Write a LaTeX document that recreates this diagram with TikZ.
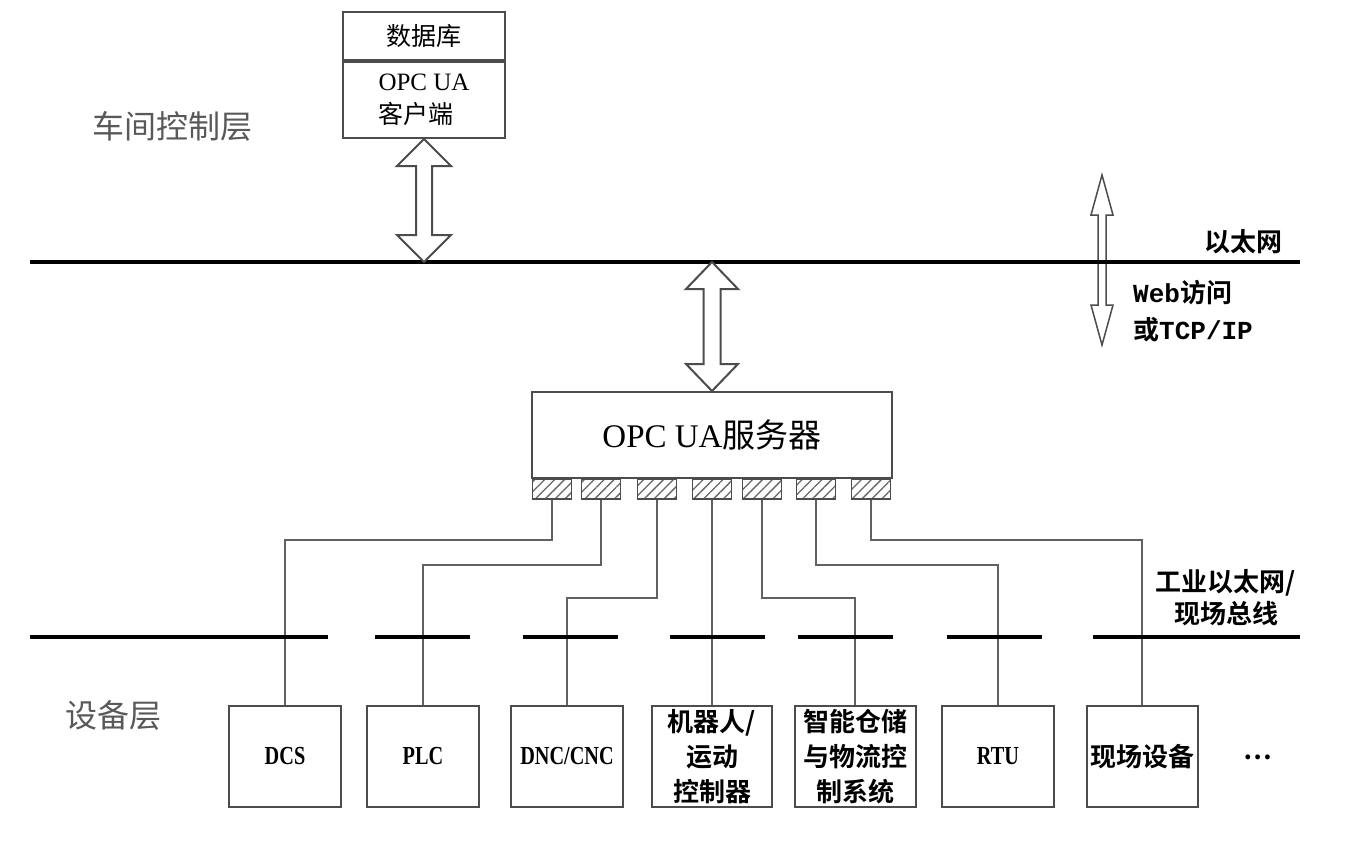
\documentclass[tikz,border=0pt]{standalone}
\usepackage{fontspec}
\setmainfont{Liberation Serif}
\newfontfamily\cjk{Noto Sans CJK SC}[BoldFont={Noto Sans CJK SC Bold}]
\newfontfamily\narrowb{Liberation Serif}[FakeStretch=0.78]
\newfontfamily\monob{Liberation Mono}
\usetikzlibrary{calc,patterns.meta}

\definecolor{framegray}{gray}{0.30}
\definecolor{wiregray}{gray}{0.38}
\definecolor{hatchgray}{gray}{0.40}
\definecolor{layergray}{gray}{0.35}

\newcommand\zh[1]{{\cjk #1}}
\newcommand\zhb[1]{{\cjk\bfseries #1}}
\newcommand\latb[1]{{\narrowb\bfseries #1}}
\newcommand\monb[1]{{\monob\bfseries #1}}

% vertical double-headed block arrow between two points
% #2 top point, #3 bottom point, #4 head half width, #5 shaft half width, #6 head length
\newcommand\dblarrow[6][]{%
  \filldraw[#1] let \p1=#2, \p2=#3 in
    (\x1,\y1) -- (\x1+#4,\y1-#6) -- (\x1+#5,\y1-#6) -- (\x1+#5,\y2+#6)
    -- (\x1+#4,\y2+#6) -- (\x1,\y2) -- (\x1-#4,\y2+#6) -- (\x1-#5,\y2+#6)
    -- (\x1-#5,\y1-#6) -- (\x1-#4,\y1-#6) -- cycle;}

\begin{document}
\begin{tikzpicture}[x=1pt,y=-1pt,
  box/.style={draw=framegray, line width=2pt, fill=white, inner sep=0pt, align=center},
  devbox/.style={box, minimum width=112pt, minimum height=101pt,
    font=\cjk\bfseries\fontsize{26}{35}\selectfont},
  port/.style={draw=framegray, line width=1.5pt, minimum width=39pt, minimum height=20pt,
    inner sep=0pt, pattern={Lines[angle=45,distance=7pt,line width=1.3pt]}, pattern color=hatchgray},
  wire/.style={draw=wiregray, line width=2pt},
  bus/.style={draw=black, line width=4pt},
  fat/.style={draw=framegray, line width=2pt, fill=white, line join=miter},
  thin/.style={draw=framegray, line width=1.5pt, fill=none, line join=miter},
  layer/.style={text=layergray, font=\cjk\fontsize{32}{38}\selectfont},
  netlabel/.style={font=\fontsize{26}{33}\selectfont, align=center, inner sep=0pt}]
\useasboundingbox[fill=white] (0,0) rectangle (1346,856);

% routing levels of the port wires
\coordinate (lvA) at (0,540);
\coordinate (lvB) at (0,565);
\coordinate (lvC) at (0,598);

% Web / TCP-IP access arrow (drawn under the Ethernet line)
\coordinate (webT) at (1102,175);
\coordinate (webB) at (1102,345);
\dblarrow[thin]{(webT)}{(webB)}{11pt}{4pt}{40pt}

% Ethernet backbone
\coordinate (ethL) at (30,262);
\coordinate (ethR) at (1300,262);
\draw[bus, line width=3.5pt] (ethL) -- (ethR);

% database / OPC UA client
\node[box, minimum width=162pt, minimum height=48pt,
      font=\cjk\fontsize{25}{33}\selectfont] (db) at (424,36) {数据库};
\node[box, minimum width=162pt, minimum height=76pt, anchor=north, align=left,
      font=\fontsize{25}{33}\selectfont] (client) at (db.south) {OPC UA\\\zh{客户端}};

% OPC UA server with its ports
\node[box, minimum width=360pt, minimum height=86pt,
      font=\fontsize{33}{40}\selectfont] (server) at (712,435) {OPC UA\zh{服务器}};
\foreach \i/\x in {1/552,2/601,3/657,4/712,5/762,6/816,7/871}
  \node[port] (p\i) at (\x,489) {};

% block arrows to the Ethernet
\dblarrow[fat]{(client.south)}{(client.south |- ethL)}{27pt}{8pt}{27pt}
\dblarrow[fat]{(server.north |- ethL)}{(server.north)}{26pt}{8.5pt}{27pt}

% field devices
\node[devbox] (dcs) at (285,756.5) {\latb{DCS}};
\node[devbox] (plc) at (423,756.5) {\latb{PLC}};
\node[devbox] (dnc) at (567,756.5) {\latb{DNC/CNC}};
\node[devbox, minimum width=120pt] (robot) at (712,756.5) {机器人/\\运动\\控制器};
\node[devbox, minimum width=121pt] (ware) at (855,756.5) {智能仓储\\与物流控\\制系统};
\node[devbox] (rtu) at (998,756.5) {\latb{RTU}};
\node[devbox, minimum width=111pt] (field) at (1142,756.5) {现场设备};
\node[font=\cjk\bfseries\fontsize{26}{30}\selectfont] (more) at (1258,757) {…};

% wires from the server ports to the devices
\draw[wire] (p1.south) |- (dcs.north |- lvA) -- (dcs.north);
\draw[wire] (p2.south) |- (plc.north |- lvB) -- (plc.north);
\draw[wire] (p3.south) |- (dnc.north |- lvC) -- (dnc.north);
\draw[wire] (p4.south) -- (robot.north);
\draw[wire] (p5.south) |- (ware.north |- lvC) -- (ware.north);
\draw[wire] (p6.south) |- (rtu.north |- lvB) -- (rtu.north);
\draw[wire] (p7.south) |- (field.north |- lvA) -- (field.north);

% industrial Ethernet / fieldbus segments
\foreach \a/\b in {30/328,375/470,523/618,670/765,798/893,947/1042,1093/1300}
  \draw[bus] (\a,637) -- (\b,637);

% layer and network labels
\node[layer] (shop) at (172,126) {车间控制层};
\node[layer] (devlayer) at (113,715) {设备层};
\node[netlabel, font=\cjk\bfseries\fontsize{26}{33}\selectfont] (ethlbl) at (1243,242) {以太网};
\node[netlabel, anchor=west, align=left, font=\fontsize{26}{37}\selectfont] (weblbl) at (1133,311)
  {\monb{Web}\zhb{访问}\\\zhb{或}\monb{TCP/IP}};
\node[netlabel, font=\cjk\bfseries\fontsize{26}{32}\selectfont] (fblbl) at (1226,598)
  {工业以太网/\\现场总线};
\end{tikzpicture}
\end{document}
